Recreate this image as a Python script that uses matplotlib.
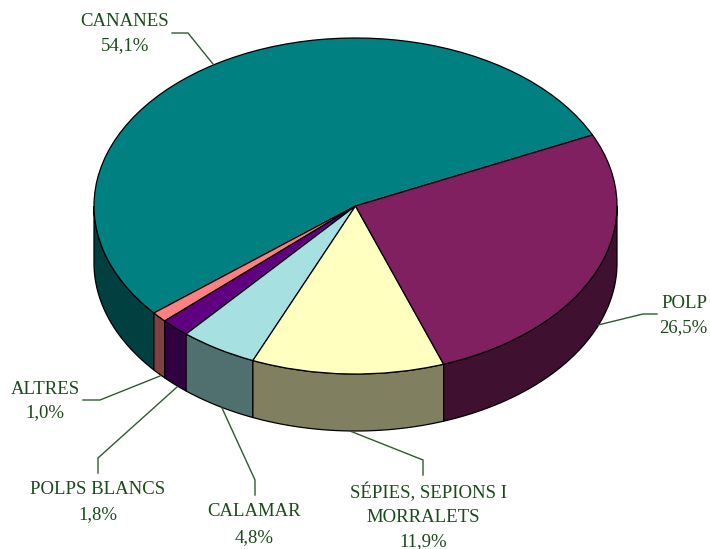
import numpy as np
import matplotlib
matplotlib.use('Agg')
import matplotlib.pyplot as plt

# data
names = ['CANANES', 'ALTRES', 'POLPS BLANCS', 'CALAMAR', 'SÉPIES, SEPIONS I\nMORRALETS', 'POLP']
values = [54.1, 1.0, 1.8, 4.8, 11.9, 26.5]
pct_labels = ['54,1%', '1,0%', '1,8%', '4,8%', '11,9%', '26,5%']

# colours
top_colors = ['#008080', '#FF8080', '#600080', '#A6E0E0', '#FFFFC0', '#802060']
side_colors = ['#004040', '#804040', '#300040', '#507070', '#808060', '#401030']
text_color = '#1A4A1A'
line_color = '#2F5A2F'

W, H = 710, 549
cx, cy, rx, ry, depth = 355.5, 206, 261.5, 168, 57
start = 25

fig = plt.figure(figsize=(W / 100, H / 100), dpi=100)

# pie axes, one unit = the radius of the ellipse
ax = fig.add_axes([0, 0, 1, 1])
shares = np.array(values) / sum(values)
edges = start + 360 * np.concatenate([[0], np.cumsum(shares)])
d = depth / ry
for i in range(len(values)):
    # only the front half of the rim shows
    for lo, hi in [(180, 360), (540, 720)]:
        a, b = max(edges[i], lo), min(edges[i + 1], hi)
        if a >= b:
            continue
        t = np.radians(np.linspace(a, b, 100))
        xs = np.concatenate([np.cos(t), np.cos(t)[::-1]])
        ys = np.concatenate([np.sin(t), np.sin(t)[::-1] - d])
        ax.fill(xs, ys, facecolor=side_colors[i], edgecolor='black', lw=0.9, zorder=1)

ax.pie(values, colors=top_colors, startangle=start, counterclock=True,
       wedgeprops={'edgecolor': 'black', 'linewidth': 0.9, 'zorder': 2})
ax.set_aspect('auto')
ax.set_xlim(-cx / rx, (W - cx) / rx)
ax.set_ylim((cy - H) / ry, cy / ry)
ax.axis('off')

# labels and leader lines, in picture pixels
over = fig.add_axes([0, 0, 1, 1])
over.set_xlim(0, W)
over.set_ylim(H, 0)
over.axis('off')
over.patch.set_alpha(0)

label_pos = [(125, 21), (45, 389), (98, 489), (254, 512), (423, 492), (684, 303)]
pct_pos = [(125, 46), (45, 413), (98, 515), (254, 538), (423, 542), (683, 328)]
leaders = [
    [(172, 33), (188, 33), (213, 64)],
    [(83, 400), (100, 400), (160, 376)],
    [(98, 473), (98, 458), (177, 387)],
    [(255, 495), (255, 480), (222, 408)],
    [(423, 475), (423, 460), (350, 431)],
    [(657, 314), (643, 314), (598, 325)],
]
font = {'family': 'Liberation Serif', 'size': 13.5, 'color': text_color}
for i in range(len(names)):
    if '\n' in names[i]:
        first, second = names[i].split('\n')
        over.text(label_pos[i][0] + 5, label_pos[i][1], first, ha='center', va='center', **font)
        over.text(label_pos[i][0], label_pos[i][1] + 25, second, ha='center', va='center', **font)
    else:
        over.text(label_pos[i][0], label_pos[i][1], names[i], ha='center', va='center', **font)
    over.text(pct_pos[i][0], pct_pos[i][1], pct_labels[i], ha='center', va='center', **font)
    pts = np.array(leaders[i])
    over.plot(pts[:, 0], pts[:, 1], color=line_color, lw=1.0)

fig.savefig('out.png', dpi=100, facecolor='white')
